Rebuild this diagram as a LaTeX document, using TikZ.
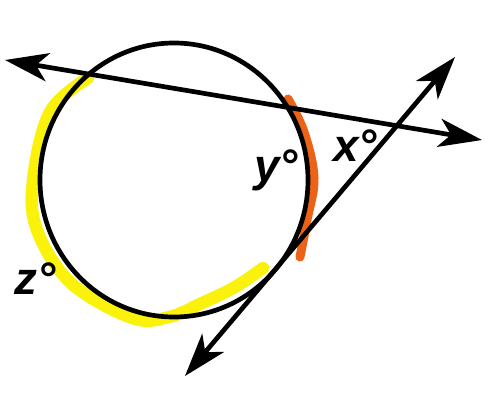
\documentclass[tikz,border=0pt]{standalone}
\usepackage{fontspec}
\setmainfont{Liberation Sans}
\usetikzlibrary{arrows.meta}
\definecolor{hlyellow}{RGB}{250,242,10}
\definecolor{hlorange}{RGB}{236,98,22}
\tikzset{
  ink/.style={line width=4pt, black},
  arrowline/.style={ink, {Stealth[length=1.3cm,width=0.85cm,inset=0.36cm]}-{Stealth[length=1.3cm,width=0.85cm,inset=0.36cm]}},
  hly/.style={line width=0.37cm, hlyellow, line cap=round},
  hlo/.style={line width=0.27cm, hlorange, line cap=round},
  lbl/.style={anchor=base west, inner sep=0pt, font=\fontsize{39}{39}\selectfont\bfseries\itshape}
}
\begin{document}
\begin{tikzpicture}[x=0.03cm,y=-0.03cm]
\useasboundingbox[fill=white] (0,0) rectangle (485,394);
% highlights
\draw[hly] plot[smooth, tension=0.6] coordinates {(88,78) (50,112) (33,180) (37,230) (71,283) (132,318) (169,317) (202,303) (235,287) (263,268)};
\draw[hlo] plot[smooth, tension=0.6] coordinates {(288,99) (304,132) (314,178) (307,220) (300,257)};
% circle
\coordinate (O) at (174,180);
\draw[ink] (O) ellipse [x radius=134, y radius=137];
% lines
\coordinate (A1) at (5,60);
\coordinate (A2) at (482,140);
\coordinate (B1) at (185,376);
\coordinate (B2) at (455,57);
\draw[arrowline] (A1) -- (A2);
\draw[arrowline] (B1) -- (B2);
% labels
\node[lbl] (lx) at (333,161) {x°};
\node[lbl] (ly) at (254,181) {y°};
\node[lbl] (lz) at (14,294) {z°};
\end{tikzpicture}
\end{document}
